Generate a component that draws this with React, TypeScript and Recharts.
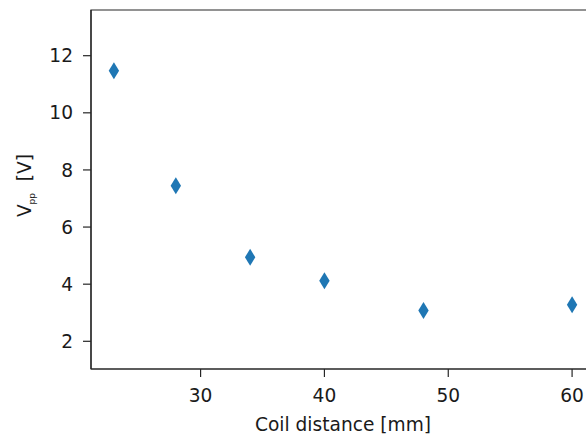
import { ScatterChart, Scatter, XAxis, YAxis, ReferenceArea } from 'recharts'

// coil distance [mm] vs peak-to-peak voltage [V]
const distances = [23, 28, 34, 40, 48, 60]
const vpp = [11.47, 7.45, 4.94, 4.12, 3.08, 3.28]
const xTicks = [30, 40, 50, 60]
const yTicks = [2, 4, 6, 8, 10, 12]

const X_DOMAIN: [number, number] = [21.15, 61.85]
const Y_DOMAIN: [number, number] = [1.03, 13.6]

const points = distances.map((d, i) => ({ d, v: vpp[i] }))

const FONT = 'DejaVu Sans'
const FONT_SIZE = 18.6
const INK = '#1a1a1a'
const SPINE = '#262626'

function ThinDiamond({ cx, cy }: any) {
  if (cx == null || cy == null) return null
  return (
    <path
      d={`M${cx},${cy - 8.5} L${cx + 5.2},${cy} L${cx},${cy + 8.5} L${cx - 5.2},${cy} Z`}
      fill="#1f77b4"
    />
  )
}

function YLabel({ viewBox }: any) {
  const x = 31
  const y = viewBox ? viewBox.y + viewBox.height / 2 - 4 : 186
  return (
    <text
      x={x}
      y={y}
      transform={`rotate(-90, ${x}, ${y})`}
      textAnchor="middle"
      fill={INK}
      fontSize={FONT_SIZE}
      fontFamily={FONT}
    >
      <tspan>V</tspan>
      <tspan fontSize={9} dy={4}>pp</tspan>
      <tspan dy={-4}>{'\u00a0\u00a0[V]'}</tspan>
    </text>
  )
}

function XLabel({ viewBox }: any) {
  const x = viewBox ? viewBox.x + viewBox.width / 2 : 343
  return (
    <text x={x} y={431} textAnchor="middle" fill={INK} fontSize={FONT_SIZE} fontFamily={FONT}>
      Coil distance [mm]
    </text>
  )
}

export default function App() {
  const tick = { fill: INK, fontSize: FONT_SIZE, fontFamily: FONT }
  return (
    <div style={{ position: 'absolute', left: 0, top: 0, width: 586, height: 440, overflow: 'hidden', background: '#fff' }}>
      <ScatterChart width={610} height={440} margin={{ top: 10, right: 15, bottom: 0, left: 0 }}>
        <XAxis
          type="number"
          dataKey="d"
          domain={X_DOMAIN}
          ticks={xTicks}
          allowDataOverflow
          height={71}
          tick={tick}
          tickSize={8}
          tickMargin={12}
          axisLine={{ stroke: SPINE, strokeWidth: 1.2 }}
          tickLine={{ stroke: SPINE, strokeWidth: 1.2 }}
          label={<XLabel />}
        />
        <YAxis
          type="number"
          dataKey="v"
          domain={Y_DOMAIN}
          ticks={yTicks}
          allowDataOverflow
          width={91}
          tick={tick}
          tickSize={8}
          tickMargin={10}
          axisLine={{ stroke: SPINE, strokeWidth: 1.2 }}
          tickLine={{ stroke: SPINE, strokeWidth: 1.2 }}
          label={<YLabel />}
        />
        <ReferenceArea
          x1={X_DOMAIN[0]}
          x2={X_DOMAIN[1]}
          y1={Y_DOMAIN[0]}
          y2={Y_DOMAIN[1]}
          fill="none"
          stroke={SPINE}
          strokeWidth={1.2}
          ifOverflow="visible"
        />
        <Scatter data={points} shape={<ThinDiamond />} isAnimationActive={false} />
      </ScatterChart>
    </div>
  )
}
